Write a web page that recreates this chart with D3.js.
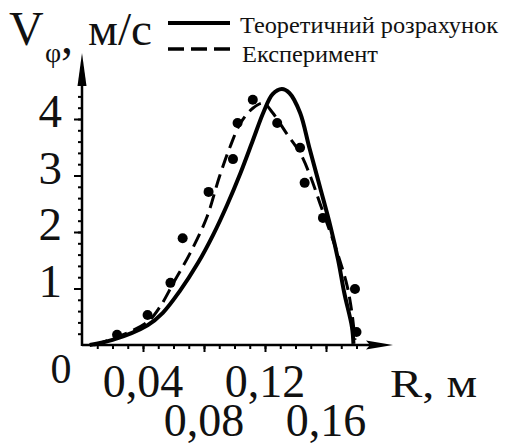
<!DOCTYPE html>
<html>
<head>
<meta charset="utf-8">
<script src="https://cdn.jsdelivr.net/npm/d3@7"></script>
<style>
  html, body { margin: 0; padding: 0; background: #fff; }
  svg text { font-family: "Liberation Serif", "Times New Roman", serif; fill: #111; }
</style>
</head>
<body>
<svg id="chart" width="505" height="446"></svg>
<script>
// Data

// theoretical calculation (solid line)
const theoryR = [0.005, 0.020, 0.043, 0.053, 0.064, 0.076, 0.086, 0.095, 0.104, 0.112, 0.119, 0.125, 0.131, 0.136, 0.143, 0.149, 0.156, 0.163, 0.168, 0.172, 0.177, 0.178];
const theoryV = [0.00, 0.09, 0.35, 0.57, 0.95, 1.45, 1.95, 2.47, 3.05, 3.62, 4.12, 4.44, 4.53, 4.46, 4.11, 3.50, 2.80, 2.09, 1.50, 0.92, 0.32, 0.02];

// experiment (dashed line)
const expR = [0.008, 0.025, 0.043, 0.051, 0.060, 0.071, 0.082, 0.090, 0.097, 0.104, 0.112, 0.119, 0.125, 0.134, 0.143, 0.150, 0.156, 0.163, 0.169, 0.174, 0.177, 0.179];
const expV = [0.00, 0.16, 0.41, 0.67, 1.10, 1.63, 2.27, 2.97, 3.50, 3.93, 4.19, 4.28, 4.11, 3.75, 3.40, 2.97, 2.51, 1.98, 1.50, 1.03, 0.57, 0.09];

// measured points
const pointR = [0.023, 0.043, 0.058, 0.066, 0.083, 0.099, 0.102, 0.112, 0.128, 0.143, 0.146, 0.158, 0.179, 0.180];
const pointV = [0.18, 0.53, 1.10, 1.89, 2.71, 3.29, 3.93, 4.34, 3.93, 3.49, 2.87, 2.25, 0.99, 0.23];

// ticks
const xMajor = [0.04, 0.08, 0.12, 0.16];
const xLabels = ["0,04", "0,08", "0,12", "0,16"];
const xMinor = d3.range(1, 19).map(d => d / 100);
const yMajor = [1, 2, 3, 4];
const yMinor = d3.range(1, 23).map(d => d / 5);

const legendItems = ["Теоретичний розрахунок", "Експеримент"];

const svg = d3.select("#chart");

const x = d3.scaleLinear().domain([0, 0.16]).range([82, 326]);
const y = d3.scaleLinear().domain([0, 4]).range([345, 119]);

// axes lines + arrows
svg.append("line")
  .attr("x1", x(0)).attr("x2", 372)
  .attr("y1", y(0)).attr("y2", y(0))
  .attr("stroke", "#000").attr("stroke-width", 2.5);
svg.append("line")
  .attr("x1", x(0)).attr("x2", x(0))
  .attr("y1", y(0) + 1).attr("y2", 80)
  .attr("stroke", "#000").attr("stroke-width", 2.5);

svg.append("path")
  .attr("d", `M393,${y(0)} L366,${y(0) - 4.5} L370,${y(0)} L366,${y(0) + 4.5} Z`)
  .attr("fill", "#000");
svg.append("path")
  .attr("d", `M${x(0)},53 L${x(0) - 4.5},86 L${x(0) + 4.5},86 Z`)
  .attr("fill", "#000");

// x ticks
const xMinorAxis = svg.append("g")
  .attr("transform", `translate(0,${y(0)})`)
  .call(d3.axisBottom(x).tickValues(xMinor).tickSize(4).tickFormat(""));
const xMajorAxis = svg.append("g")
  .attr("transform", `translate(0,${y(0)})`)
  .call(d3.axisBottom(x).tickValues(xMajor).tickSize(7).tickFormat(""));

// y ticks
const yMinorAxis = svg.append("g")
  .attr("transform", `translate(${x(0)},0)`)
  .call(d3.axisLeft(y).tickValues(yMinor).tickSize(4).tickFormat(""));
const yMajorAxis = svg.append("g")
  .attr("transform", `translate(${x(0)},0)`)
  .call(d3.axisLeft(y).tickValues(yMajor).tickSize(8).tickFormat(""));

[xMinorAxis, xMajorAxis, yMinorAxis, yMajorAxis].forEach(g => {
  g.select(".domain").remove();
  g.selectAll("line").attr("stroke", "#000").attr("stroke-width", 2);
});

// x labels, staggered in two rows
svg.append("g")
  .selectAll("text")
  .data(xMajor)
  .join("text")
  .attr("x", d => x(d))
  .attr("y", (d, i) => i % 2 === 0 ? 397 : 436)
  .attr("text-anchor", "middle")
  .style("font-size", "46px")
  .text((d, i) => xLabels[i]);

// y labels
svg.append("g")
  .selectAll("text")
  .data(yMajor)
  .join("text")
  .attr("x", 62)
  .attr("y", d => y(d) + 8)
  .attr("text-anchor", "end")
  .style("font-size", "47px")
  .text(d => d);

svg.append("text")
  .attr("x", 61).attr("y", 383)
  .attr("text-anchor", "middle")
  .style("font-size", "42px")
  .text("0");

svg.append("text")
  .attr("x", 390).attr("y", 397)
  .attr("textLength", 87).attr("lengthAdjust", "spacingAndGlyphs")
  .style("font-size", "40px")
  .text("R, м");

// y title
svg.append("text").attr("x", 9).attr("y", 45).style("font-size", "48px").text("V");
svg.append("text").attr("x", 45).attr("y", 62).style("font-size", "28px").text("φ");
svg.append("text").attr("x", 61).attr("y", 53).style("font-size", "48px").text(",");
svg.append("text").attr("x", 88).attr("y", 45)
  .attr("textLength", 64).attr("lengthAdjust", "spacingAndGlyphs")
  .style("font-size", "46px").text("м/с");

// curves
const line = d3.line()
  .x(d => x(d[0]))
  .y(d => y(d[1]))
  .curve(d3.curveCatmullRom);

svg.append("path")
  .datum(d3.zip(theoryR, theoryV))
  .attr("d", line)
  .attr("fill", "none")
  .attr("stroke", "#000")
  .attr("stroke-width", 4);

svg.append("path")
  .datum(d3.zip(expR, expV))
  .attr("d", line)
  .attr("fill", "none")
  .attr("stroke", "#000")
  .attr("stroke-width", 3)
  .attr("stroke-dasharray", "14,7");

svg.append("g")
  .selectAll("circle")
  .data(d3.zip(pointR, pointV))
  .join("circle")
  .attr("cx", d => x(d[0]))
  .attr("cy", d => y(d[1]))
  .attr("r", 5)
  .attr("fill", "#000");

// legend
const legend = svg.append("g");
legend.append("line")
  .attr("x1", 168).attr("x2", 230).attr("y1", 23).attr("y2", 23)
  .attr("stroke", "#000").attr("stroke-width", 4);
legend.append("line")
  .attr("x1", 168).attr("x2", 230).attr("y1", 49).attr("y2", 49)
  .attr("stroke", "#000").attr("stroke-width", 3.5)
  .attr("stroke-dasharray", "16,7");
legend.append("text")
  .attr("x", 240).attr("y", 33)
  .attr("textLength", 258).attr("lengthAdjust", "spacingAndGlyphs")
  .style("font-size", "24px")
  .text(legendItems[0]);
legend.append("text")
  .attr("x", 242).attr("y", 62)
  .attr("textLength", 136).attr("lengthAdjust", "spacingAndGlyphs")
  .style("font-size", "24px")
  .text(legendItems[1]);
</script>
</body>
</html>
